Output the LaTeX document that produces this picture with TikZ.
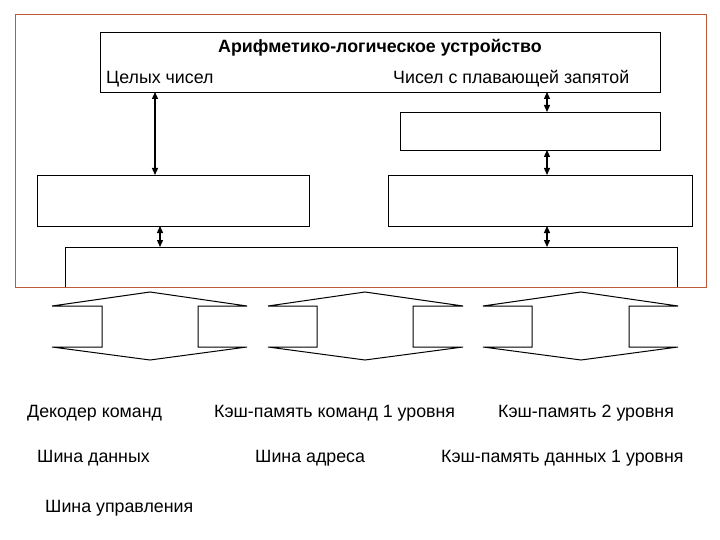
\documentclass[tikz,border=0pt]{standalone}
\usepackage{fontspec}
\setmainfont{Liberation Sans}
\usetikzlibrary{arrows.meta}
\begin{document}
\begin{tikzpicture}[x=1pt,y=-1pt,
  box/.style={draw,line width=1pt},
  dbl/.style={{Triangle[length=7pt,width=6pt]}-{Triangle[length=7pt,width=6pt]},line width=1.3pt},
  lbl/.style={font=\fontsize{17.8}{20}\selectfont,anchor=base west,inner sep=0pt},
  bus/.style={draw,line width=1pt}]
\useasboundingbox (0,0) rectangle (720,540);
\draw[draw={rgb,255:red,190;green,90;blue,60},line width=1pt] (15,15) rectangle (706,287);
\node[box,minimum width=560pt,minimum height=60pt,anchor=north west,inner sep=0pt] (alu) at (100,32) {};
\node[font=\fontsize{17.8}{20}\selectfont\bfseries,inner sep=0pt,anchor=base] (alut) at (380,53) {Арифметико-логическое устройство};
\node[lbl] (int) at (106,84) {Целых чисел};
\node[lbl] (flt) at (393,84) {Чисел с плавающей запятой};
\node[box,minimum width=260pt,minimum height=38pt,anchor=north west,inner sep=0pt] (fb) at (400,112) {};
\node[box,minimum width=272pt,minimum height=51pt,anchor=north west,inner sep=0pt] (lb) at (37,175) {};
\node[box,minimum width=304pt,minimum height=51pt,anchor=north west,inner sep=0pt] (rb) at (388,175) {};
\draw[box] (65,287) -- (65,247) coordinate (bl) -- (677,247) -- (677,287);
\draw[dbl] (155,92) -- (155,175);
\draw[dbl] (547,92) -- (547,112);
\draw[dbl] (547,150) -- (547,175);
\draw[dbl] (547,226) -- (547,247);
\draw[dbl] (160,226) -- (160,247);
\foreach \a/\b/\c/\d/\m in {52/102/198/247/150, 268/317/413/463/365, 483/532/629/678/581}{
  \draw[bus] (\a,306) -- (\m,292) -- (\d,306) -- (\c,306) -- (\c,347) -- (\d,347) -- (\m,360) -- (\a,347) -- (\b,347) -- (\b,306) -- cycle;
}
\node[lbl] (t1) at (27,417) {Декодер команд};
\node[lbl] (t2) at (214,417) {Кэш-память команд 1 уровня};
\node[lbl] (t3) at (498,417) {Кэш-память 2 уровня};
\node[lbl] (t4) at (37,462) {Шина данных};
\node[lbl] (t5) at (255,462) {Шина адреса};
\node[lbl] (t6) at (441,462) {Кэш-память данных 1 уровня};
\node[lbl] (t7) at (45,512) {Шина управления};
\end{tikzpicture}
\end{document}
